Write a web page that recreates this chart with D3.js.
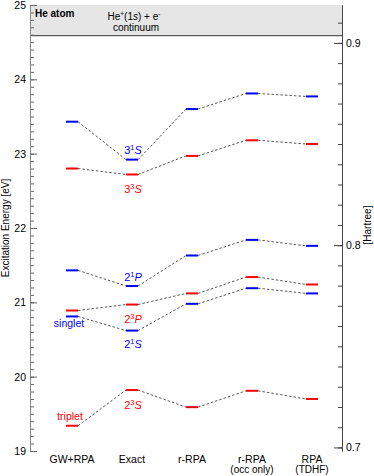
<!DOCTYPE html>
<html>
<head>
<meta charset="utf-8">
<script src="https://cdn.jsdelivr.net/npm/d3@7"></script>
<style>
  body { margin: 0; background: #fff; }
  svg text { font-family: "Liberation Sans", Arial, sans-serif; }
</style>
</head>
<body>
<div id="chart"></div>
<script>
// methods along the x axis (second line is optional)
var methods = ["GW+RPA", "Exact", "r-RPA", "r-RPA occ", "RPA TDHF"];
var methodLine1 = ["GW+RPA", "Exact", "r-RPA", "r-RPA", "RPA"];
var methodLine2 = ["", "", "", "(occ only)", "(TDHF)"];

// excitation energies in eV, one array per state
var e23S = [19.34, 19.82, 19.59, 19.81, 19.70];
var e21S = [20.81, 20.62, 20.98, 21.19, 21.12];
var e23P = [20.89, 20.97, 21.12, 21.34, 21.24];
var e21P = [21.43, 21.22, 21.63, 21.84, 21.76];
var e33S = [22.80, 22.72, 22.97, 23.18, 23.13];
var e31S = [23.43, 22.92, 23.60, 23.81, 23.77];

var ionization = 24.587;   // He+(1s) + e- threshold
var hartree = 27.2114;

var yTicks = [19, 20, 21, 22, 23, 24, 25];
var haTicks = [0.7, 0.8, 0.9];

function drawLevels(){
    var width = 374, height = 476;
    var mLeft = 30, mRight = 342, mTop = 5, mBottom = 451;

    var svg = d3.select('#chart').append('svg')
        .attr('width', width)
        .attr('height', height);

    var x = d3.scalePoint().domain(methods).range([72, 312]);
    var y = d3.scaleLinear().domain([19, 25]).range([mBottom, mTop]);
    var y2 = d3.scaleLinear().domain([19 / hartree, 25 / hartree]).range([mBottom, mTop]);

    // continuum band
    svg.append('rect')
        .attr('x', mLeft).attr('y', y(25))
        .attr('width', mRight - mLeft).attr('height', y(ionization) - y(25))
        .attr('fill', '#e6e6e6');
    svg.append('line')
        .attr('x1', mLeft).attr('x2', mRight)
        .attr('y1', y(ionization)).attr('y2', y(ionization))
        .attr('stroke', '#333').attr('stroke-width', 1);

    // left axis
    var gl = svg.append('g').attr('transform', 'translate(' + mLeft + ',0)');
    gl.call(d3.axisLeft(y).tickValues(d3.range(190, 251).map(function(d){ return d / 10; }))
        .tickSize(-4).tickSizeOuter(0).tickFormat(''));
    gl.append('g').call(d3.axisLeft(y).tickValues(yTicks).tickSize(-7).tickPadding(4)
        .tickSizeOuter(0).tickFormat(d3.format('d')));
    gl.selectAll('path').attr('stroke', '#888');
    gl.selectAll('line').attr('stroke', '#666');
    gl.selectAll('text').style('font-size', '10.5px').attr('fill', '#000')
        .style('font-family', '"Liberation Sans", Arial, sans-serif');

    // right axis in Hartree
    var gr = svg.append('g').attr('transform', 'translate(' + mRight + ',0)');
    gr.call(d3.axisRight(y2).tickValues(d3.range(70, 92).map(function(d){ return d / 100; }))
        .tickSize(-4).tickSizeOuter(0).tickFormat(''));
    gr.append('g').call(d3.axisRight(y2).tickValues(haTicks).tickSize(-8).tickPadding(4)
        .tickSizeOuter(0).tickFormat(d3.format('.1f')));
    gr.selectAll('path').attr('stroke', '#444');
    gr.selectAll('line').attr('stroke', '#444');
    gr.selectAll('text').style('font-size', '10.5px').attr('fill', '#000')
        .style('font-family', '"Liberation Sans", Arial, sans-serif');

    // axis titles
    svg.append('text')
        .attr('transform', 'translate(9,' + (mTop + mBottom) / 2 + ') rotate(-90)')
        .attr('text-anchor', 'middle')
        .style('font-size', '10px')
        .text('Excitation Energy [eV]');
    svg.append('text')
        .attr('transform', 'translate(371,225) rotate(-90)')
        .attr('text-anchor', 'middle')
        .style('font-size', '10px')
        .text('[Hartree]');

    // x labels
    methods.forEach(function(m, i){
        svg.append('text')
            .attr('x', x(m)).attr('y', 463)
            .attr('text-anchor', 'middle')
            .style('font-size', '10.5px')
            .text(methodLine1[i]);
        if (methodLine2[i]) {
            svg.append('text')
                .attr('x', x(m)).attr('y', 473)
                .attr('text-anchor', 'middle')
                .style('font-size', '10px')
                .text(methodLine2[i]);
        }
    });

    // band text
    svg.append('text').attr('x', 35).attr('y', 17)
        .style('font-size', '10px').style('font-weight', 'bold')
        .text('He atom');
    var t1 = svg.append('text').attr('x', 134).attr('y', 20)
        .attr('text-anchor', 'middle').style('font-size', '10px');
    t1.append('tspan').text('He');
    t1.append('tspan').attr('dy', -4).style('font-size', '6.5px').text('+');
    t1.append('tspan').attr('dy', 4).text('(1');
    t1.append('tspan').style('font-style', 'italic').text('s');
    t1.append('tspan').text(') + e');
    t1.append('tspan').attr('dy', -4).style('font-size', '6.5px').text('-');
    svg.append('text').attr('x', 136).attr('y', 31)
        .attr('text-anchor', 'middle').style('font-size', '10px')
        .text('continuum');

    // levels
    var blue = '#0000ff', red = '#ff0000';
    var states = [
        {vals: e23S, color: red,  n: '2', s: '3', L: 'S', dy: 19},
        {vals: e21S, color: blue, n: '2', s: '1', L: 'S', dy: 17},
        {vals: e23P, color: red,  n: '2', s: '3', L: 'P', dy: 18},
        {vals: e21P, color: blue, n: '2', s: '1', L: 'P', dy: -5},
        {vals: e33S, color: red,  n: '3', s: '3', L: 'S', dy: 19},
        {vals: e31S, color: blue, n: '3', s: '1', L: 'S', dy: -6}
    ];
    var half = 6;

    states.forEach(function(st){
        var g = svg.append('g');
        for (var i = 0; i < methods.length - 1; i++) {
            g.append('line')
                .attr('x1', x(methods[i]) + half).attr('y1', y(st.vals[i]))
                .attr('x2', x(methods[i + 1]) - half).attr('y2', y(st.vals[i + 1]))
                .attr('stroke', '#444').attr('stroke-width', 0.9)
                .attr('stroke-dasharray', '2.5,2');
        }
        g.selectAll('.lvl').data(st.vals).enter().append('line')
            .attr('class', 'lvl')
            .attr('x1', function(d, i){ return x(methods[i]) - half; })
            .attr('x2', function(d, i){ return x(methods[i]) + half; })
            .attr('y1', function(d){ return y(d); })
            .attr('y2', function(d){ return y(d); })
            .attr('stroke', st.color).attr('stroke-width', 2);

        // state label next to the exact level
        var lab = svg.append('text')
            .attr('x', x('Exact') + 1).attr('y', y(st.vals[1]) + st.dy)
            .attr('text-anchor', 'middle')
            .attr('fill', st.color)
            .style('font-size', '11px');
        lab.append('tspan').text(st.n);
        lab.append('tspan').attr('dy', -4).style('font-size', '7.5px').text(st.s);
        lab.append('tspan').attr('dy', 4).style('font-style', 'italic').text(st.L);
    });

    svg.append('text').attr('x', 69).attr('y', y(e21S[0]) + 11)
        .attr('text-anchor', 'middle').attr('fill', blue)
        .style('font-size', '10.5px').text('singlet');
    svg.append('text').attr('x', 70).attr('y', y(e23S[0]) - 6)
        .attr('text-anchor', 'middle').attr('fill', red)
        .style('font-size', '10.5px').text('triplet');
}

drawLevels();
</script>
</body>
</html>
